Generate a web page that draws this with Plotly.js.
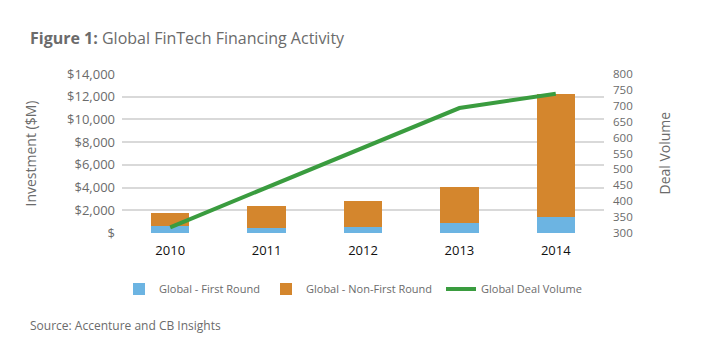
<!DOCTYPE html>
<html>
<head>
<meta charset="utf-8">
<script src="https://cdn.plot.ly/plotly-3.0.1.min.js"></script>
<style>html,body{margin:0;padding:0;background:#fff;}#chart{width:713px;height:347px;}</style>
</head>
<body>
<div id="chart"></div>
<script>
const years = ['2010', '2011', '2012', '2013', '2014'];
const firstRound = [650, 480, 570, 920, 1390];
const nonFirstRound = [1150, 1910, 2210, 3130, 10840];
const dealVolume = [318, 443, 568, 693, 738];
const leftTickVals = [0, 2000, 4000, 6000, 8000, 10000, 12000, 14000];
const leftTickText = ['$', '$2,000', '$4,000', '$6,000', '$8,000', '$10,000', '$12,000', '$14,000'];
const rightTickVals = [300, 350, 400, 450, 500, 550, 600, 650, 700, 750, 800];

const FONT = 'Open Sans, Noto Sans, sans-serif';
const GREY = '#6b6b6b';

const traces = [
  {type: 'bar', name: 'Global - First Round', x: years, y: firstRound,
   marker: {color: '#6cb4e2'}, width: 0.4, legend: 'legend'},
  {type: 'bar', name: 'Global - Non-First Round', x: years, y: nonFirstRound,
   marker: {color: '#d4862d'}, width: 0.4, legend: 'legend2'},
  {type: 'scatter', mode: 'lines', name: 'Global Deal Volume', x: years, y: dealVolume,
   yaxis: 'y2', line: {color: '#3a9c3f', width: 4}, legend: 'legend3'}
];

function leg(left) {
  return {orientation: 'h', xref: 'container', yref: 'container',
          x: left/713, xanchor: 'left', y: 1 - 289/347, yanchor: 'middle',
          bgcolor: 'rgba(0,0,0,0)', font: {size: 11, color: GREY}};
}

const layout = {
  width: 713, height: 347,
  margin: {l: 122, r: 109, t: 74, b: 114, autoexpand: false},
  paper_bgcolor: '#fff', plot_bgcolor: '#fff',
  barmode: 'stack',
  font: {family: FONT, color: GREY, size: 13},
  title: {text: '<b>Figure 1:</b> Global FinTech Financing Activity',
          xref: 'container', yref: 'container', x: 30/713, xanchor: 'left',
          y: 1 - 38/347, yanchor: 'middle',
          font: {family: FONT, size: 16, color: GREY}},
  xaxis: {type: 'category', showgrid: false, zeroline: false, showline: false,
          ticks: '', ticklabelstandoff: 8, tickfont: {color: '#111', size: 13}},
  yaxis: {range: [0, 14000], tickvals: leftTickVals, ticktext: leftTickText,
          showgrid: true, gridcolor: '#d9d9d9', gridwidth: 2, zeroline: false,
          ticks: '', ticklabelstandoff: 6, tickfont: {size: 13, color: GREY}},
  yaxis2: {range: [300, 800], tickvals: rightTickVals, overlaying: 'y', side: 'right',
           showgrid: false, zeroline: false, ticks: '', ticklabelstandoff: 8,
           tickfont: {size: 11.5, color: GREY}},
  showlegend: true,
  legend: leg(119),
  legend2: leg(266),
  legend3: leg(441),
  annotations: [
    {text: 'Investment ($M)', xref: 'paper', yref: 'paper', x: (30-122)/482, y: 0.5,
     xanchor: 'center', yanchor: 'middle', textangle: -90, showarrow: false,
     font: {size: 14, color: GREY}},
    {text: 'Deal Volume', xref: 'paper', yref: 'paper', x: (664-122)/482, y: 0.5,
     xanchor: 'center', yanchor: 'middle', textangle: -90, showarrow: false,
     font: {size: 14, color: GREY}},
    {text: 'Source: Accenture and CB Insights', xref: 'paper', yref: 'paper',
     x: (28-122)/482, xanchor: 'left', y: (232.7-325)/158.7, yanchor: 'middle',
     showarrow: false, font: {size: 12, color: GREY}}
  ]
};

Plotly.newPlot('chart', traces, layout, {displayModeBar: false, staticPlot: true});
</script>
</body>
</html>
